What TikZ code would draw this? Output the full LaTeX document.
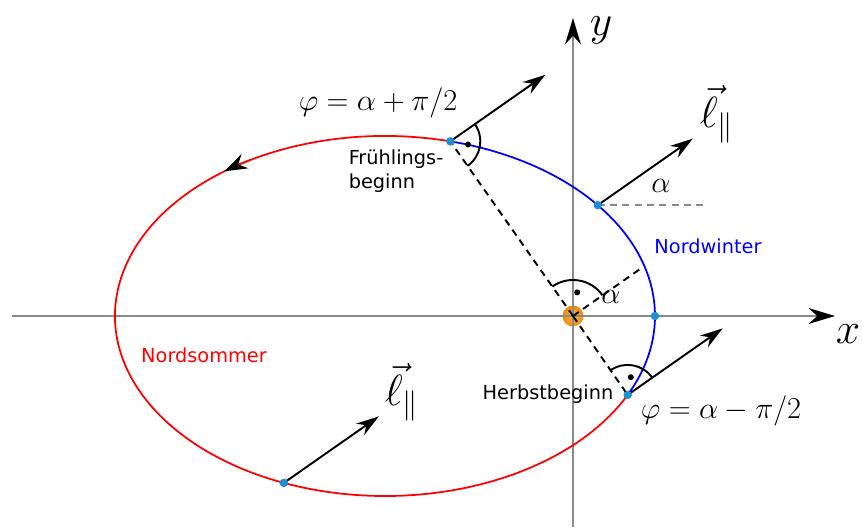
\documentclass[tikz,border=0pt]{standalone}
\usepackage{fontspec}
\newfontfamily\labelfont{DejaVu Sans}
\usetikzlibrary{arrows.meta,calc}

\definecolor{sunorange}{HTML}{EE8A0C}
\definecolor{sunlight}{HTML}{FFB43A}
\definecolor{pointblue}{HTML}{1E8FD2}
\definecolor{axisgray}{HTML}{8A8A8A}

\begin{document}
\begin{tikzpicture}[font=\fontsize{19}{21}\selectfont,
  axis/.style={axisgray,line width=0.9pt,-{Stealth[black,length=15pt,width=9pt]}},
  vecarrow/.style={line width=1.1pt,-{Stealth[length=13pt,width=8pt]}},
  helpline/.style={line width=1.1pt,dash pattern=on 4pt off 3pt},
  rightangle/.style={line width=1.1pt},
  textlabel/.style={font=\labelfont\fontsize{11}{13.5}\selectfont},
  orbitpoint/.style={fill=pointblue}]

\def\a{5.4}
\def\b{3.6}
\def\cx{-3.76}
\def\al{35}
\def\len{2.32}

\useasboundingbox (-11.46,-4.22) rectangle (5.78,6.32);

% Sun
\shade[inner color=sunlight,outer color=sunorange] (0,0) circle(0.21);
\coordinate (sun) at (0,0);

% Axes
\coordinate (xl) at (-11.22,0);
\coordinate (xr) at (5.24,0);
\coordinate (yb) at (0,-4.22);
\coordinate (yt) at (0,5.96);
\draw[axis] (xl) -- (xr);
\draw[axis] (yb) -- (yt);
\node (xlab) at (5.5,-0.36) {\fontsize{25}{28}\selectfont$x$};
\node (ylab) at (0.56,5.72) {\fontsize{25}{28}\selectfont$y$};

% Points on the orbit
\coordinate (F) at ({\cx+\a*cos(76)},{\b*sin(76)});
\coordinate (W) at ({\cx+\a*cos(38)},{\b*sin(38)});
\coordinate (R) at ({\cx+\a},0);
\coordinate (H) at ({\cx+\a*cos(-26)},{\b*sin(-26)});
\coordinate (S) at ({\cx+\a*cos(-112)},{\b*sin(-112)});

% Helper lines
\coordinate (alend) at (\al:1.68);
\draw[helpline] (sun) -- (F);
\draw[helpline] (sun) -- (H);
\draw[helpline] (sun) -- (alend);
\coordinate (Wh) at ($(W)+(2.15,0)$);
\draw[axisgray,line width=0.8pt,dash pattern=on 4pt off 3pt] (W) -- (Wh);

% Orbit
\draw[red,line width=1pt] (F) arc[start angle=76,end angle=334,x radius=\a,y radius=\b];
\draw[blue,line width=1pt] (H) arc[start angle=-26,end angle=76,x radius=\a,y radius=\b];
\coordinate (dirA) at ({\cx+\a*cos(120)},{\b*sin(120)});
\draw[red,line width=1pt,-{Stealth[black,length=13pt,width=9pt]}]
  (dirA) arc[start angle=120,end angle=126.5,x radius=\a,y radius=\b];

% Angular momentum
\foreach \p in {F,W,H,S}{
  \coordinate (\p tip) at ($(\p)+(\al:\len)$);
  \draw[vecarrow] (\p) -- (\p tip);
}

% Right angles
\draw[rightangle] ($(sun)+(\al:0.72)$) arc[start angle=\al,end angle=\al+90,radius=0.72];
\fill ($(sun)+(\al+45:0.48)$) circle(0.06);
\draw[rightangle] ($(H)+(\al:0.6)$) arc[start angle=\al,end angle=\al+90,radius=0.6];
\fill ($(H)+(\al+45:0.36)$) circle(0.06);
\draw[rightangle] ($(F)+(\al-90:0.6)$) arc[start angle=\al-90,end angle=\al,radius=0.6];
\fill ($(F)+(\al-45:0.36)$) circle(0.06);

% Orbit points
\foreach \p in {F,W,R,H,S}
  \fill[orbitpoint] (\p) circle(0.085);

% Labels
\node (ltop) at (2.88,4.04) {\fontsize{24}{26}\selectfont$\vec{\ell}_{\|}$};
\node (lbot) at (-3.42,-1.52) {\fontsize{24}{26}\selectfont$\vec{\ell}_{\|}$};
\node (alW) at (1.76,2.6) {$\alpha$};
\node (alsun) at (0.76,0.38) {$\alpha$};
\node (phiF) at (-3.9,4.26) {$\varphi=\alpha+\pi/2$};
\node (phiH) at (2.96,-1.9) {$\varphi=\alpha-\pi/2$};
\node[textlabel,align=left] (spring) at (-3.54,2.9) {Frühlings-\\beginn};
\node[textlabel] (autumn) at (-0.5,-1.56) {Herbstbeginn};
\node[textlabel,blue] (winter) at (2.7,1.4) {Nordwinter};
\node[textlabel,red] (summer) at (-7.38,-0.78) {Nordsommer};

\end{tikzpicture}
\end{document}
